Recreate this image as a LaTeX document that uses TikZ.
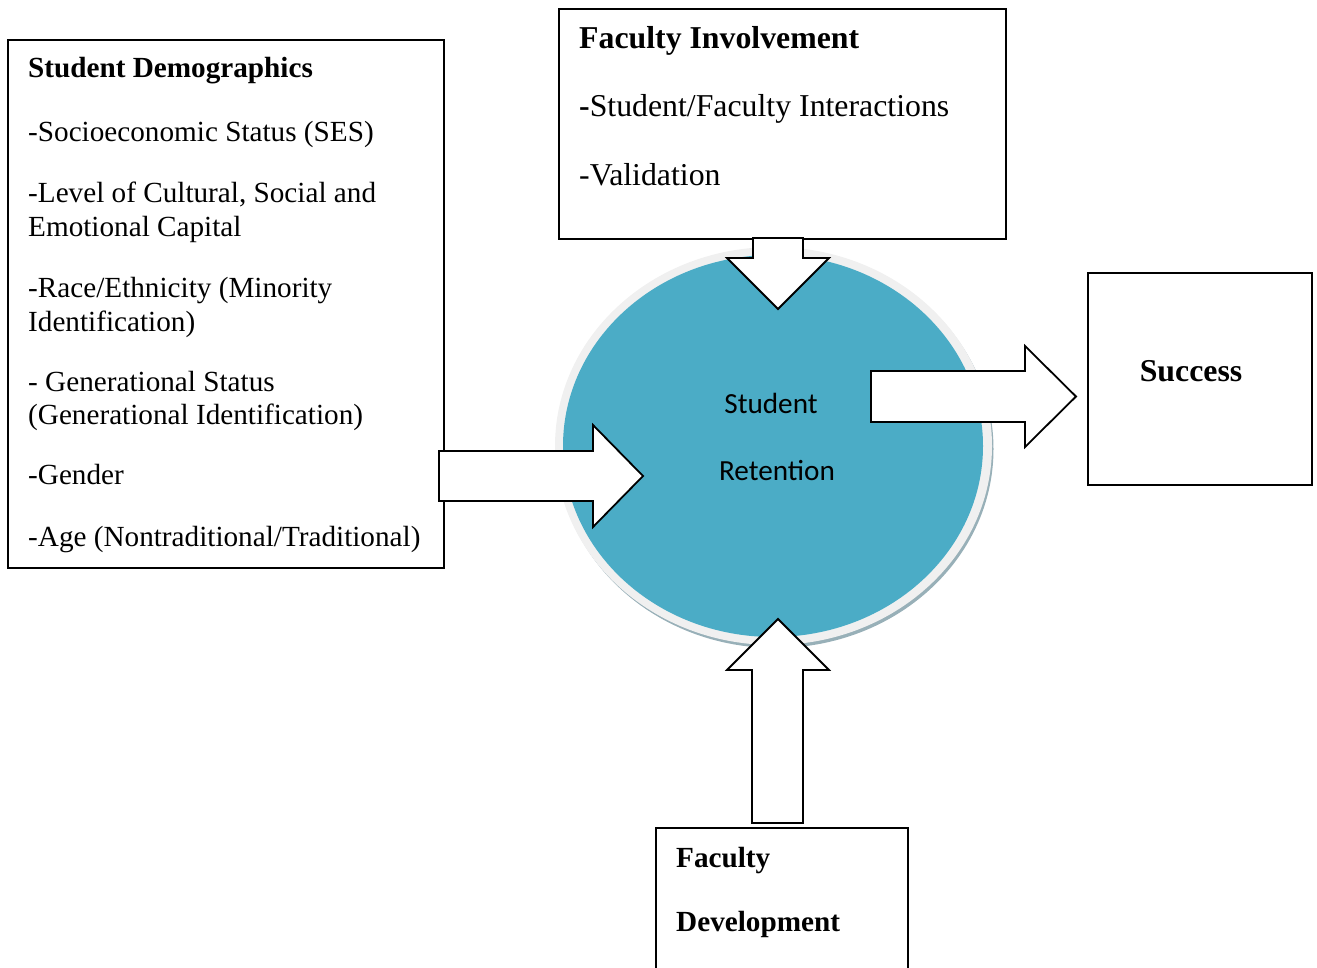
\documentclass[tikz,border=0pt]{standalone}
\usepackage{fontspec}
\setmainfont{Liberation Serif}
\newfontfamily\calibri{Carlito}
\usetikzlibrary{shapes.geometric}
\definecolor{retfill}{HTML}{4BACC6}
\definecolor{retrim}{HTML}{F0F0F0}
\definecolor{retshade}{HTML}{98B0B8}
\begin{document}
\begin{tikzpicture}[x=1pt,y=-1pt,
  box/.style={draw=black, line width=1.8pt, fill=white, inner sep=0pt, anchor=north west},
  blockarrow/.style={draw=black, line width=1.8pt, fill=white, line join=miter},
  reg/.style={anchor=base west, inner sep=0pt, font=\fontsize{29.2}{34}\selectfont},
  bld/.style={anchor=base west, inner sep=0pt, font=\fontsize{29.2}{34}\selectfont\bfseries},
  regL/.style={anchor=base west, inner sep=0pt, font=\fontsize{31.8}{37}\selectfont},
  bldL/.style={anchor=base west, inner sep=0pt, font=\fontsize{31.8}{37}\selectfont\bfseries},
  circtxt/.style={anchor=base, inner sep=0pt, font=\fontsize{29.2}{34}\selectfont\calibri},
]
\useasboundingbox (0,0) rectangle (1317,968);
\clip (0,0) rectangle (1317,968);

% central circle with its bevelled rim
\fill[retshade] (775.5,449) ellipse [x radius=218, y radius=199];
\fill[retrim] (773.5,446) ellipse [x radius=218.5, y radius=199];
\node[ellipse, fill=retfill, minimum width=420pt, minimum height=382pt, inner sep=0pt] (ret) at (773,446) {};
\node[circtxt] (retA) at (771,413) {Student};
\node[circtxt] (retB) at (777,480) {Retention};

% boxes
\node[box, minimum width=436pt, minimum height=528pt] (demo) at (7,39) {};
\node[box, minimum width=447pt, minimum height=230pt] (inv) at (558,8) {};
\node[box, minimum width=224pt, minimum height=212pt] (succ) at (1087,272) {};
\node[box, minimum width=252pt, minimum height=200pt] (dev) at (655,827) {};

% Student Demographics
\node[bld] (d0) at (28,78) {Student Demographics};
\node[reg] (d1) at (28,142) {-Socioeconomic Status (SES)};
\node[reg] (d2) at (28,203) {-Level of Cultural, Social and};
\node[reg] (d3) at (28,237) {Emotional Capital};
\node[reg] (d4) at (28,298) {-Race/Ethnicity (Minority};
\node[reg] (d5) at (28,331) {Identification)};
\node[reg] (d6) at (28,391) {- Generational Status};
\node[reg] (d7) at (28,424) {(Generational Identification)};
\node[reg] (d8) at (28,484) {-Gender};
\node[reg] (d9) at (28,546) {-Age (Nontraditional/Traditional)};

% Faculty Involvement
\node[bldL] (i0) at (579,49) {Faculty Involvement};
\node[regL] (i1) at (579,117) {\textbf{-}Student/Faculty Interactions};
\node[regL] (i2) at (579,186) {-Validation};

% Success
\node[bldL, anchor=base] (s0) at (1191,381) {Success};

% Faculty Development
\node[bld] (f0) at (676,867) {Faculty};
\node[bld] (f1) at (676,931) {Development};

% block arrows
\draw[blockarrow] (753,238) -- (803,238) -- (803,258) -- (829,258) -- (778,309)
  -- (727,258) -- (753,258) -- cycle;
\draw[blockarrow] (439,451) -- (593,451) -- (593,425) -- (643,476) -- (593,527)
  -- (593,501) -- (439,501) -- cycle;
\draw[blockarrow] (871,371) -- (1025,371) -- (1025,346) -- (1076,396.5) -- (1025,447)
  -- (1025,422) -- (871,422) -- cycle;
\draw[blockarrow] (752,823) -- (752,670) -- (727,670) -- (778,619) -- (829,670)
  -- (803,670) -- (803,823) -- cycle;
\end{tikzpicture}
\end{document}
